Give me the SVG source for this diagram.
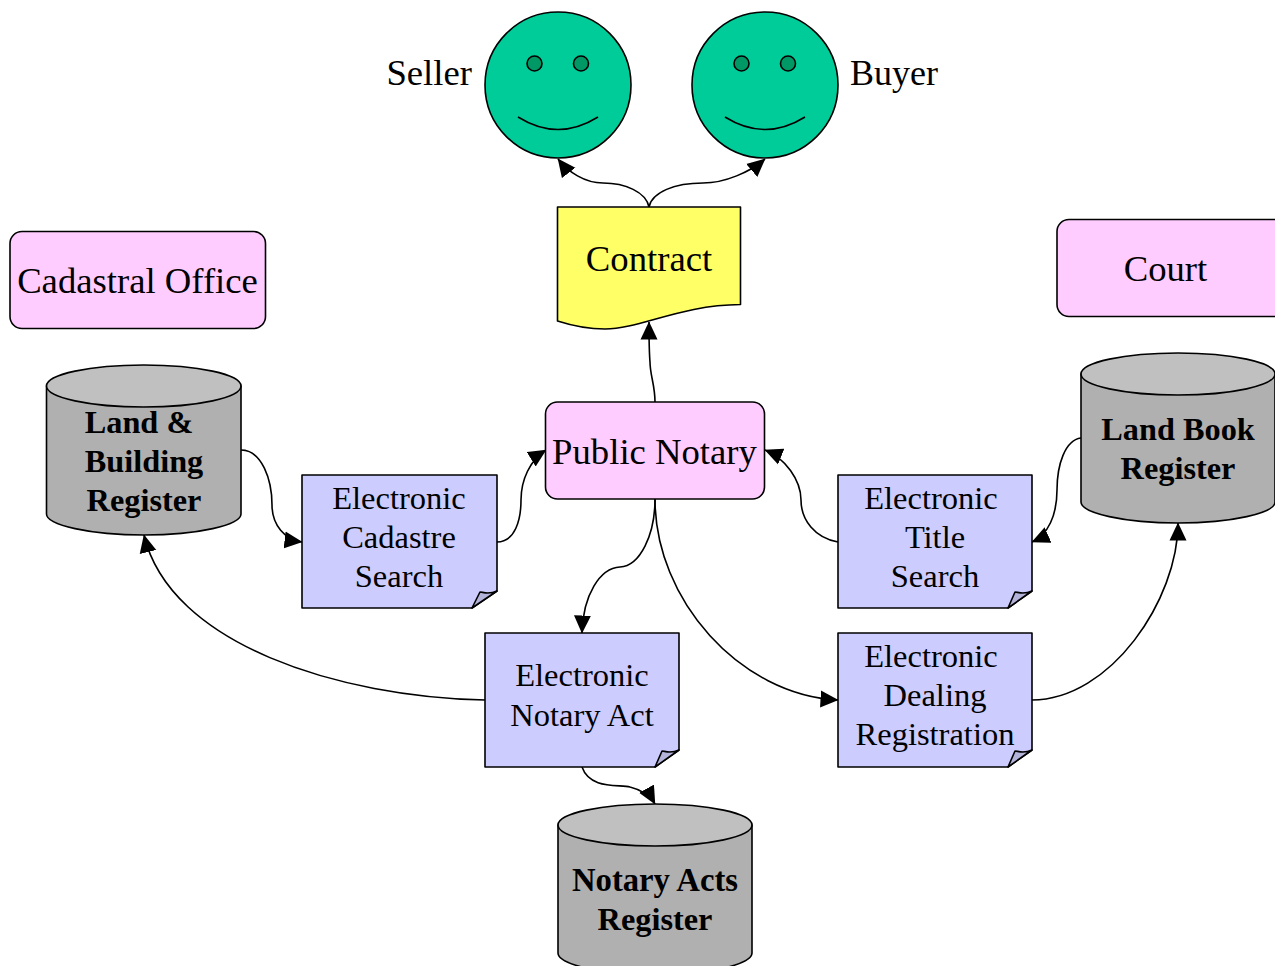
<svg xmlns="http://www.w3.org/2000/svg" width="1275" height="966" viewBox="0 0 1275 966">
<style>
text{font-family:"Liberation Serif","Times New Roman",serif;font-size:32.500px;fill:#000;text-anchor:middle}
.t{font-size:36.700px}
.b{font-weight:bold;font-size:32.300px}
.l{text-anchor:end}.s{text-anchor:start}
.o{stroke:#000;stroke-width:1.600;stroke-linejoin:round}
.pink{fill:#fcf}.note{fill:#ccf}.fold{fill:#b3b3d9}
.cyl{fill:#b0b0b0}.top{fill:#c0c0c0}
.face{fill:#0c9}.eye{fill:#096}.smile{fill:none}
.c{fill:none;stroke:#000;stroke-width:1.600}
</style>
<defs>
<marker id="a" viewBox="0 0 18 18" refX="17.500" refY="9" markerWidth="18" markerHeight="18" markerUnits="userSpaceOnUse" orient="auto"><path d="M0 0.500L18 9L0 17.500Z" fill="#000"/></marker>
</defs>
<rect width="1275" height="966" fill="#fff"/>
<g id="connectors">
<path class="c" marker-end="url(#a)" d="M649 207C646 192 625 183 603 183C585 183 568 172 558 159"/>
<path class="c" marker-end="url(#a)" d="M649 207C652 192 675 183 703 183C725 183 750 172 765 159"/>
<path class="c" marker-end="url(#a)" d="M655 402C655 385 650 375 650 362C649 350 649 340 649 322"/>
<path class="c" marker-end="url(#a)" d="M241 450C262 450 272 480 272 505C272 525 285 540 302 542"/>
<path class="c" marker-end="url(#a)" d="M497 542C515 542 521 520 521 500C521 480 530 460 546 450"/>
<path class="c" marker-end="url(#a)" d="M838 542C815 538 801 520 801 500C801 480 785 458 765 450"/>
<path class="c" marker-end="url(#a)" d="M1081 438C1065 440 1057 465 1057 490C1057 515 1048 535 1032 542"/>
<path class="c" marker-end="url(#a)" d="M655 499C655 535 640 566 620 567C600 568 583 595 582 633"/>
<path class="c" marker-end="url(#a)" d="M655 499C655 600 740 695 838 700"/>
<path class="c" marker-end="url(#a)" d="M1032 700C1110 700 1178 600 1178 523"/>
<path class="c" marker-end="url(#a)" d="M485 700C340 697 170 645 144 535"/>
<path class="c" marker-end="url(#a)" d="M582 767C590 790 620 784 630 787C642 790 650 795 655 804"/>
</g>
<g id="seller">
<circle class="face o" cx="558" cy="85" r="73"/>
<circle class="eye o" cx="534.500" cy="63.500" r="7.500"/>
<circle class="eye o" cx="581" cy="63.500" r="7.500"/>
<path class="smile o" d="M518 117Q558 142 598 117"/>
<text class="t l" x="472" y="85">Seller</text>
</g>
<g id="buyer">
<circle class="face o" cx="765" cy="85" r="73"/>
<circle class="eye o" cx="741.500" cy="63.500" r="7.500"/>
<circle class="eye o" cx="788" cy="63.500" r="7.500"/>
<path class="smile o" d="M725 117Q765 142 805 117"/>
<text class="s" x="850" y="85" style="font-size:36px">Buyer</text>
</g>
<g id="contract">
<path class="o" fill="#ff6" d="M557.500 207H740.500V304.500C680 305 640 329 605 329C585 329 570 325 557.500 321Z"/>
<text class="t" x="649" y="271">Contract</text>
</g>
<g id="cadastral-office">
<rect class="pink o" x="10" y="231.500" width="255.500" height="97" rx="12"/>
<text class="t" x="137.500" y="293">Cadastral Office</text>
</g>
<g id="court">
<rect class="pink o" x="1057" y="219.500" width="232" height="97" rx="12"/>
<text class="t" x="1165.500" y="281">Court</text>
</g>
<g id="public-notary">
<rect class="pink o" x="545.500" y="402" width="219" height="97" rx="12"/>
<text class="t" x="654.500" y="464">Public Notary</text>
</g>
<g id="land-building-register">
<path class="cyl o" d="M46.500 386V514C46.500 525 90 535 144 535S241 525 241 514V386Z"/>
<ellipse class="top o" cx="143.750" cy="386" rx="97.250" ry="21"/>
<text class="b" x="139" y="433">Land &amp;</text>
<text class="b" x="144" y="472">Building</text>
<text class="b" x="144" y="511">Register</text>
</g>
<g id="land-book-register">
<path class="cyl o" d="M1081 374V502C1081 513 1124 523 1178 523S1275 513 1275 502V374Z"/>
<ellipse class="top o" cx="1178" cy="374" rx="97" ry="21"/>
<text class="b" x="1178" y="440">Land Book</text>
<text class="b" x="1178" y="479">Register</text>
</g>
<g id="notary-acts-register">
<path class="cyl o" d="M558 825V953C558 964 601 975 655 975S752 964 752 953V825Z"/>
<ellipse class="top o" cx="655" cy="825" rx="97" ry="21"/>
<text class="b" x="655" y="891" style="font-size:32.700px">Notary Acts</text>
<text class="b" x="655" y="930">Register</text>
</g>
<g id="electronic-cadastre-search">
<path class="note o" d="M302 475H497V591L472 608H302Z"/>
<path class="fold o" d="M472 608L497 591C488 595 483 592 480 592Z"/>
<text x="399" y="509">Electronic</text>
<text x="399" y="548">Cadastre</text>
<text x="399" y="587">Search</text>
</g>
<g id="electronic-title-search">
<path class="note o" d="M838 475H1032V591L1008 608H838Z"/>
<path class="fold o" d="M1008 608L1032 591C1023 595 1018 592 1015 592Z"/>
<text x="931" y="509">Electronic</text>
<text x="935" y="548">Title</text>
<text x="935" y="587">Search</text>
</g>
<g id="electronic-notary-act">
<path class="note o" d="M485 633H679V750L655 767H485Z"/>
<path class="fold o" d="M655 767L679 750C670 754 665 751 662 751Z"/>
<text x="582" y="686">Electronic</text>
<text x="582" y="726">Notary Act</text>
</g>
<g id="electronic-dealing-registration">
<path class="note o" d="M838 633H1032V750L1008 767H838Z"/>
<path class="fold o" d="M1008 767L1032 750C1023 754 1018 751 1015 751Z"/>
<text x="931" y="667">Electronic</text>
<text x="935" y="706">Dealing</text>
<text x="935" y="745">Registration</text>
</g>
</svg>
